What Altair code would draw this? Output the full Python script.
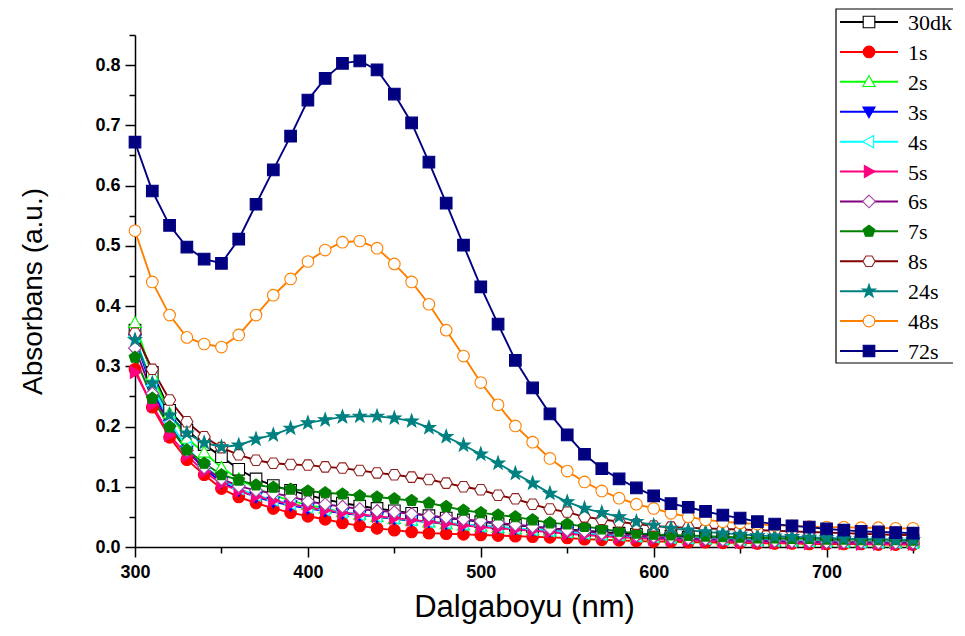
import altair as alt
import pandas as pd

# ---------------- data ----------------
wavelengths = list(range(300, 760, 10))  # 300 ... 750 nm

series_names = ["30dk", "1s", "2s", "3s", "4s", "5s", "6s", "7s", "8s", "24s", "48s", "72s"]

abs_30dk = [0.360, 0.290, 0.227, 0.194, 0.170, 0.150, 0.129, 0.113, 0.102, 0.094, 0.086, 0.079, 0.073, 0.068, 0.064, 0.060,
            0.056, 0.052, 0.048, 0.045, 0.042, 0.039, 0.036, 0.034, 0.031, 0.029, 0.027, 0.025, 0.023, 0.021, 0.019,
            0.018, 0.016, 0.015, 0.014, 0.013, 0.012, 0.011, 0.011, 0.010, 0.010, 0.009, 0.009, 0.008, 0.008, 0.008]
abs_1s = [0.295, 0.232, 0.182, 0.145, 0.120, 0.097, 0.083, 0.073, 0.064, 0.057, 0.051, 0.046, 0.040, 0.035, 0.031, 0.028,
          0.025, 0.023, 0.022, 0.021, 0.020, 0.019, 0.018, 0.017, 0.016, 0.015, 0.013, 0.012, 0.011, 0.010, 0.009,
          0.009, 0.008, 0.008, 0.007, 0.007, 0.006, 0.006, 0.006, 0.005, 0.005, 0.005, 0.005, 0.004, 0.004, 0.004]
abs_2s = [0.372, 0.285, 0.222, 0.180, 0.157, 0.132, 0.113, 0.098, 0.086, 0.077, 0.070, 0.064, 0.058, 0.054, 0.050, 0.047,
          0.044, 0.041, 0.038, 0.036, 0.034, 0.032, 0.030, 0.028, 0.026, 0.024, 0.022, 0.020, 0.019, 0.017, 0.016,
          0.015, 0.014, 0.013, 0.012, 0.012, 0.011, 0.010, 0.010, 0.009, 0.009, 0.008, 0.008, 0.008, 0.007, 0.007]
abs_3s = [0.345, 0.262, 0.203, 0.160, 0.130, 0.108, 0.094, 0.083, 0.075, 0.069, 0.064, 0.060, 0.056, 0.053, 0.050, 0.047,
          0.044, 0.042, 0.039, 0.037, 0.035, 0.033, 0.031, 0.029, 0.027, 0.025, 0.023, 0.021, 0.019, 0.018, 0.016,
          0.015, 0.014, 0.013, 0.012, 0.011, 0.011, 0.010, 0.009, 0.009, 0.008, 0.008, 0.007, 0.007, 0.007, 0.006]
abs_4s = [0.350, 0.268, 0.208, 0.165, 0.135, 0.112, 0.097, 0.086, 0.078, 0.072, 0.066, 0.062, 0.058, 0.054, 0.051, 0.048,
          0.045, 0.042, 0.040, 0.038, 0.035, 0.033, 0.031, 0.029, 0.027, 0.025, 0.023, 0.021, 0.020, 0.018, 0.017,
          0.016, 0.015, 0.014, 0.013, 0.012, 0.011, 0.011, 0.010, 0.010, 0.009, 0.009, 0.008, 0.008, 0.008, 0.007]
abs_5s = [0.290, 0.236, 0.186, 0.152, 0.125, 0.105, 0.093, 0.084, 0.077, 0.071, 0.066, 0.061, 0.057, 0.054, 0.051, 0.048,
          0.045, 0.042, 0.039, 0.036, 0.033, 0.031, 0.029, 0.027, 0.025, 0.022, 0.020, 0.018, 0.016, 0.015, 0.013,
          0.012, 0.011, 0.010, 0.009, 0.008, 0.008, 0.007, 0.007, 0.006, 0.006, 0.006, 0.005, 0.005, 0.005, 0.005]
abs_6s = [0.330, 0.255, 0.200, 0.160, 0.132, 0.113, 0.101, 0.094, 0.089, 0.084, 0.076, 0.071, 0.067, 0.063, 0.060, 0.058,
          0.055, 0.052, 0.049, 0.046, 0.043, 0.040, 0.037, 0.034, 0.031, 0.028, 0.026, 0.023, 0.021, 0.019, 0.017,
          0.015, 0.014, 0.013, 0.012, 0.011, 0.010, 0.010, 0.009, 0.009, 0.008, 0.008, 0.008, 0.007, 0.007, 0.007]
abs_7s = [0.315, 0.247, 0.199, 0.161, 0.139, 0.120, 0.111, 0.103, 0.099, 0.096, 0.093, 0.090, 0.088, 0.085, 0.083, 0.080,
          0.077, 0.073, 0.067, 0.061, 0.057, 0.053, 0.050, 0.045, 0.040, 0.038, 0.034, 0.030, 0.026, 0.023, 0.021,
          0.020, 0.019, 0.018, 0.017, 0.016, 0.015, 0.015, 0.014, 0.014, 0.013, 0.013, 0.012, 0.012, 0.012, 0.011]
abs_8s = [0.355, 0.295, 0.244, 0.208, 0.183, 0.165, 0.153, 0.144, 0.139, 0.137, 0.136, 0.133, 0.131, 0.127, 0.123, 0.120,
          0.116, 0.112, 0.106, 0.100, 0.095, 0.086, 0.080, 0.071, 0.063, 0.058, 0.050, 0.046, 0.042, 0.038, 0.035,
          0.033, 0.032, 0.031, 0.030, 0.029, 0.028, 0.027, 0.026, 0.025, 0.024, 0.023, 0.022, 0.021, 0.020, 0.020]
abs_24s = [0.344, 0.272, 0.219, 0.189, 0.173, 0.166, 0.169, 0.179, 0.186, 0.197, 0.206, 0.211, 0.216, 0.217, 0.217, 0.214,
           0.209, 0.198, 0.183, 0.169, 0.154, 0.139, 0.122, 0.106, 0.089, 0.075, 0.064, 0.057, 0.050, 0.042, 0.036,
           0.031, 0.028, 0.025, 0.023, 0.021, 0.019, 0.018, 0.017, 0.016, 0.015, 0.014, 0.013, 0.013, 0.012, 0.012]
abs_48s = [0.525, 0.440, 0.385, 0.348, 0.337, 0.332, 0.352, 0.385, 0.418, 0.445, 0.474, 0.493, 0.506, 0.508, 0.496, 0.470,
           0.440, 0.403, 0.360, 0.317, 0.273, 0.236, 0.201, 0.174, 0.147, 0.126, 0.108, 0.093, 0.081, 0.071, 0.064,
           0.056, 0.050, 0.045, 0.042, 0.040, 0.038, 0.036, 0.035, 0.034, 0.033, 0.033, 0.032, 0.032, 0.031, 0.031]
abs_72s = [0.672, 0.591, 0.534, 0.498, 0.478, 0.471, 0.511, 0.569, 0.626, 0.682, 0.742, 0.778, 0.803, 0.807, 0.792, 0.752,
           0.704, 0.639, 0.571, 0.501, 0.432, 0.370, 0.310, 0.264, 0.221, 0.186, 0.154, 0.130, 0.113, 0.098, 0.085,
           0.072, 0.066, 0.059, 0.053, 0.048, 0.042, 0.038, 0.035, 0.033, 0.030, 0.028, 0.026, 0.025, 0.024, 0.023]

x_major_ticks = [300, 400, 500, 600, 700]
x_minor_ticks = [350, 450, 550, 650, 750]
y_major_ticks = [0.0, 0.1, 0.2, 0.3, 0.4, 0.5, 0.6, 0.7, 0.8]
y_minor_ticks = [0.05, 0.15, 0.25, 0.35, 0.45, 0.55, 0.65, 0.75, 0.85]

# ---------------- styles ----------------
line_colors = ["#000000", "#FF0000", "#00FF00", "#0000FF", "#00FFFF", "#FF0080",
               "#800080", "#008000", "#800000", "#008080", "#FF8000", "#000080"]
fill_colors = ["#FFFFFF", "#FF0000", "#FFFFFF", "#0000FF", "#FFFFFF", "#FF0080",
               "#FFFFFF", "#008000", "#FFFFFF", "#008080", "#FFFFFF", "#000080"]
marker_strokes = ["#000000", "#FF0000", "#00FF00", "#0000FF", "#00FFFF", "#FF0080",
                  "#A040A0", "#008000", "#902020", "#008080", "#FF8000", "#000080"]

SQUARE = "M-1,-1H1V1H-1Z"
CIRCLE = ("M1,0C1,0.552,0.552,1,0,1C-0.552,1,-1,0.552,-1,0"
          "C-1,-0.552,-0.552,-1,0,-1C0.552,-1,1,-0.552,1,0Z")
TRI_UP = "M0,-1.05L1.05,0.8L-1.05,0.8Z"
TRI_DOWN = "M0,1.05L1.05,-0.8L-1.05,-0.8Z"
TRI_LEFT = "M-1.05,0L0.8,-1.05L0.8,1.05Z"
TRI_RIGHT = "M1.05,0L-0.8,-1.05L-0.8,1.05Z"
DIAMOND = "M0,-1.1L1.1,0L0,1.1L-1.1,0Z"
PENTAGON = "M0,-1.05L1,-0.32L0.62,0.85L-0.62,0.85L-1,-0.32Z"
HEXAGON = "M1.05,0L0.52,0.9L-0.52,0.9L-1.05,0L-0.52,-0.9L0.52,-0.9Z"
STAR = ("M0,-1.2L0.28,-0.39L1.14,-0.37L0.46,0.15L0.71,0.97L0,0.48"
        "L-0.71,0.97L-0.46,0.15L-1.14,-0.37L-0.28,-0.39Z")
marker_shapes = [SQUARE, CIRCLE, TRI_UP, TRI_DOWN, TRI_LEFT, TRI_RIGHT,
                 DIAMOND, PENTAGON, HEXAGON, STAR, CIRCLE, SQUARE]

# ---------------- tables ----------------
all_values = [abs_30dk, abs_1s, abs_2s, abs_3s, abs_4s, abs_5s, abs_6s,
              abs_7s, abs_8s, abs_24s, abs_48s, abs_72s]
rows = []
for k, (name, vals) in enumerate(zip(series_names, all_values)):
    for wl, v in zip(wavelengths, vals):
        rows.append({"wl": wl, "absorb": v, "series": name, "k": k})
df = pd.DataFrame(rows)
legend_df = pd.DataFrame({"series": series_names})
box_df = pd.DataFrame({"box": [1]})

FONT = "Liberation Sans"
MARKER_SIZE = 135

x_scale = alt.Scale(domain=[300, 750], nice=False, zero=False)
y_scale = alt.Scale(domain=[0, 0.85], nice=False)
color_scale = alt.Scale(domain=series_names, range=line_colors)
stroke_scale = alt.Scale(domain=series_names, range=marker_strokes)
fill_scale = alt.Scale(domain=series_names, range=fill_colors)
shape_scale = alt.Scale(domain=series_names, range=marker_shapes)
legend_y_scale = alt.Scale(type="point", domain=series_names, range=[-13, 316], padding=0)

x_major_axis = alt.Axis(
    values=x_major_ticks, format="d", title="Dalgaboyu (nm)",
    titleFont=FONT, titleFontSize=31, titleFontWeight="normal", titleColor="black", titlePadding=11,
    labelFont=FONT, labelFontSize=18, labelFontWeight="bold", labelColor="black", labelPadding=6,
    labelFlush=False, tickSize=10, tickWidth=1.5, tickColor="black",
    domainWidth=1.5, domainColor="black", grid=False, orient="bottom",
)
x_minor_axis = alt.Axis(
    values=x_minor_ticks, labels=False, title=None, tickSize=6, tickWidth=1.5,
    tickColor="black", domain=False, grid=False, orient="bottom",
)
y_major_axis = alt.Axis(
    values=y_major_ticks, format=".1f", title="Absorbans (a.u.)",
    titleFont=FONT, titleFontSize=28, titleFontWeight="normal", titleColor="black", titlePadding=47,
    labelFont=FONT, labelFontSize=18, labelFontWeight="bold", labelColor="black", labelPadding=5,
    labelFlush=False, tickSize=10, tickWidth=1.5, tickColor="black",
    domainWidth=1.5, domainColor="black", grid=False, orient="left",
)
y_minor_axis = alt.Axis(
    values=y_minor_ticks, labels=False, title=None, tickSize=6, tickWidth=1.5,
    tickColor="black", domain=False, grid=False, orient="left",
)

lines = alt.Chart(df).mark_line(strokeWidth=1.9).encode(
    x=alt.X("wl:Q", scale=x_scale, axis=x_major_axis),
    y=alt.Y("absorb:Q", scale=y_scale, axis=y_major_axis),
    color=alt.Color("series:N", scale=color_scale, legend=None),
    detail="series:N",
    order="wl:Q",
)

points = alt.Chart(df).mark_point(size=MARKER_SIZE, strokeWidth=1.1, opacity=1, fillOpacity=1).encode(
    x=alt.X("wl:Q", scale=x_scale, axis=x_minor_axis),
    y=alt.Y("absorb:Q", scale=y_scale, axis=y_minor_axis),
    stroke=alt.Stroke("series:N", scale=stroke_scale, legend=None),
    fill=alt.Fill("series:N", scale=fill_scale, legend=None),
    shape=alt.Shape("series:N", scale=shape_scale, legend=None),
    order="k:Q",
)

# ---------------- legend (Origin-style: line through marker) ----------------
legend_box = alt.Chart(box_df).mark_rect(fill="white", stroke="black", strokeWidth=1.2).encode(
    x=alt.value(701), x2=alt.value(835), y=alt.value(-26), y2=alt.value(328),
)
legend_lines = alt.Chart(legend_df).mark_rule(strokeWidth=2).encode(
    x=alt.value(705), x2=alt.value(763),
    y=alt.Y("series:N", scale=legend_y_scale, axis=None),
    color=alt.Color("series:N", scale=color_scale, legend=None),
)
legend_marks = alt.Chart(legend_df).mark_point(size=MARKER_SIZE, strokeWidth=1.1, opacity=1, fillOpacity=1).encode(
    x=alt.value(734),
    y=alt.Y("series:N", scale=legend_y_scale, axis=None),
    stroke=alt.Stroke("series:N", scale=stroke_scale, legend=None),
    fill=alt.Fill("series:N", scale=fill_scale, legend=None),
    shape=alt.Shape("series:N", scale=shape_scale, legend=None),
)
legend_text = alt.Chart(legend_df).mark_text(
    align="left", baseline="middle", font="Liberation Serif", fontSize=22, color="black", dy=1,
).encode(
    x=alt.value(773),
    y=alt.Y("series:N", scale=legend_y_scale, axis=None),
    text="series:N",
)

chart = (
    alt.layer(lines, points, legend_box, legend_lines, legend_marks, legend_text)
    .resolve_scale(y="independent")
    .resolve_axis(x="independent", y="independent")
    .properties(
        width=778, height=512,
        padding={"left": 127, "top": 27, "right": 40, "bottom": 81},
        autosize=alt.AutoSizeParams(type="none"),
        background="white",
    )
    .configure_view(stroke=None)
)

chart.save("out.html", embed_options={"renderer": "svg", "actions": False})
